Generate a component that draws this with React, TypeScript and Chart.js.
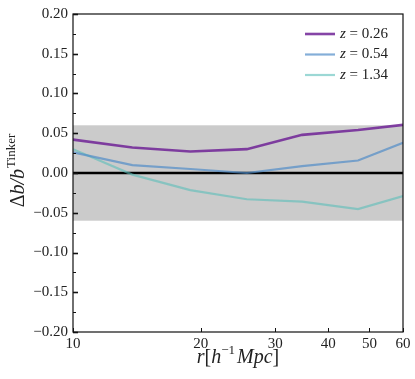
import React, { useEffect, useRef } from 'react';
import { Chart, registerables } from 'chart.js';

Chart.register(...registerables);

// ---- data ----
const radii = [10, 13.8, 18.9, 25.7, 34.7, 47, 60];
const biasZ026 = [0.042, 0.032, 0.027, 0.030, 0.048, 0.054, 0.0605];
const biasZ054 = [0.026, 0.010, 0.005, 0.000, 0.0087, 0.0157, 0.038];
const biasZ134 = [0.030, -0.002, -0.0215, -0.033, -0.036, -0.0455, -0.029];
const redshiftLabels = ['0.26', '0.54', '1.34'];
const xTickValues = [10, 20, 30, 40, 50, 60];
const yMajorTicks = [-0.2, -0.15, -0.1, -0.05, 0, 0.05, 0.1, 0.15, 0.2];
const yMinorTicks = [-0.175, -0.125, -0.075, -0.025, 0.025, 0.075, 0.125, 0.175];
const bandRange = [-0.06, 0.06];
const zeroLevel = 0;

const lineColors = ['rgba(112,35,150,0.85)', 'rgba(80,140,200,0.7)', 'rgba(90,190,185,0.6)'];
const lineWidths = [2.6, 2.2, 2.2];
const SERIF = "'Liberation Serif', 'Times New Roman', serif";

const decorPlugin = {
  id: 'decor',
  beforeDatasetsDraw(chart: any) {
    const { ctx, chartArea: a, scales } = chart;
    const y = scales.y;
    ctx.save();
    const yTop = y.getPixelForValue(bandRange[1]);
    const yBot = y.getPixelForValue(bandRange[0]);
    ctx.fillStyle = '#cbcbcb';
    ctx.fillRect(a.left, yTop, a.right - a.left, yBot - yTop);
    const y0 = y.getPixelForValue(zeroLevel);
    ctx.strokeStyle = '#000';
    ctx.lineWidth = 2.4;
    ctx.beginPath();
    ctx.moveTo(a.left, y0);
    ctx.lineTo(a.right, y0);
    ctx.stroke();
    ctx.restore();
  },
  afterDatasetsDraw(chart: any) {
    const { ctx, chartArea: a, scales } = chart;
    const x = scales.x;
    const y = scales.y;
    ctx.save();
    // frame
    ctx.strokeStyle = '#111';
    ctx.lineWidth = 1.2;
    ctx.strokeRect(a.left, a.top, a.right - a.left, a.bottom - a.top);
    // y ticks (inward)
    ctx.lineWidth = 1.6;
    yMajorTicks.forEach((v) => {
      const py = Math.round(y.getPixelForValue(v)) + 0.5;
      ctx.beginPath();
      ctx.moveTo(a.left, py);
      ctx.lineTo(a.left + 5, py);
      ctx.stroke();
    });
    ctx.lineWidth = 1;
    yMinorTicks.forEach((v) => {
      const py = Math.round(y.getPixelForValue(v)) + 0.5;
      ctx.beginPath();
      ctx.moveTo(a.left, py);
      ctx.lineTo(a.left + 3, py);
      ctx.stroke();
    });
    // x ticks (inward)
    ctx.lineWidth = 1;
    xTickValues.forEach((v) => {
      const px = Math.round(x.getPixelForValue(v)) + 0.5;
      ctx.beginPath();
      ctx.moveTo(px, a.bottom);
      ctx.lineTo(px, a.bottom - 4);
      ctx.stroke();
    });

    // legend
    const lx = a.right - 98;
    const ly = a.top + 20;
    chart.data.datasets.forEach((ds: any, i: number) => {
      const yy = ly + i * 20.5;
      ctx.strokeStyle = ds.borderColor;
      ctx.lineWidth = ds.borderWidth;
      ctx.beginPath();
      ctx.moveTo(lx, yy);
      ctx.lineTo(lx + 30, yy);
      ctx.stroke();
      ctx.fillStyle = '#222';
      ctx.textBaseline = 'middle';
      ctx.textAlign = 'left';
      ctx.font = `italic 15px ${SERIF}`;
      ctx.fillText('z', lx + 35, yy);
      const w = ctx.measureText('z').width;
      ctx.font = `15px ${SERIF}`;
      ctx.fillText(' = ' + redshiftLabels[i], lx + 35 + w, yy);
    });

    // x title
    ctx.fillStyle = '#222';
    ctx.textBaseline = 'alphabetic';
    ctx.textAlign = 'left';
    const xParts: [string, string, number][] = [
      ['r', `italic 20px ${SERIF}`, 0],
      ['[', `20px ${SERIF}`, 0],
      ['h', `italic 20px ${SERIF}`, 0],
      ['\u22121', `13px ${SERIF}`, -9],
      ['Mpc', `italic 20px ${SERIF}`, 0],
      [']', `20px ${SERIF}`, 0],
    ];
    let total = 0;
    xParts.forEach(([t, f]) => {
      ctx.font = f;
      total += ctx.measureText(t).width + (t === 'Mpc' ? 2 : 0);
    });
    let cx = (a.left + a.right) / 2 - total / 2;
    const baseY = 363;
    xParts.forEach(([t, f, dy]) => {
      ctx.font = f;
      if (t === 'Mpc') cx += 2;
      ctx.fillText(t, cx, baseY + dy);
      cx += ctx.measureText(t).width;
    });

    // y title (rotated)
    ctx.save();
    ctx.translate(24, 171);
    ctx.rotate(-Math.PI / 2);
    const yParts: [string, string, number][] = [
      ['\u0394', `20px ${SERIF}`, 0],
      ['b/b', `italic 20px ${SERIF}`, 0],
      ['Tinker', `13px ${SERIF}`, -9],
    ];
    let tw = 0;
    yParts.forEach(([t, f]) => {
      ctx.font = f;
      tw += ctx.measureText(t).width;
    });
    let tx = -tw / 2;
    yParts.forEach(([t, f, dy]) => {
      ctx.font = f;
      ctx.fillText(t, tx, dy);
      tx += ctx.measureText(t).width + (t === 'b/b' ? 1 : 0);
    });
    ctx.restore();

    ctx.restore();
  },
};

export default function App() {
  const canvasRef = useRef<HTMLCanvasElement | null>(null);

  useEffect(() => {
    document.body.style.margin = '0';
    const canvas = canvasRef.current;
    if (!canvas) return;
    const series = [biasZ026, biasZ054, biasZ134];
    const chart = new Chart(canvas, {
      type: 'line',
      data: {
        datasets: series.map((vals, i) => ({
          label: 'z = ' + redshiftLabels[i],
          data: radii.map((r, j) => ({ x: r, y: vals[j] })),
          borderColor: lineColors[i],
          borderWidth: lineWidths[i],
          pointRadius: 0,
          tension: 0,
          fill: false,
        })),
      },
      options: {
        animation: false,
        responsive: true,
        maintainAspectRatio: false,
        layout: { padding: { top: 10, right: 12, left: 0, bottom: 0 } },
        plugins: { legend: { display: false }, tooltip: { enabled: false } },
        scales: {
          x: {
            type: 'logarithmic',
            min: 10,
            max: 60,
            grid: { display: false, drawTicks: false, tickLength: 0 },
            border: { display: false },
            afterBuildTicks: (scale: any) => {
              scale.ticks = xTickValues.map((v) => ({ value: v }));
            },
            afterFit: (scale: any) => {
              scale.height = 47;
            },
            ticks: {
              autoSkip: false,
              maxRotation: 0,
              padding: 3,
              color: '#222',
              font: { family: SERIF, size: 15 },
              callback: (v: any) => String(v),
            },
          },
          y: {
            type: 'linear',
            min: -0.2,
            max: 0.2,
            grid: { display: false, drawTicks: false, tickLength: 0 },
            border: { display: false },
            afterBuildTicks: (scale: any) => {
              scale.ticks = yMajorTicks.map((v) => ({ value: v }));
            },
            afterFit: (scale: any) => {
              scale.width = 73;
            },
            ticks: {
              autoSkip: false,
              padding: 5,
              color: '#222',
              font: { family: SERIF, size: 15 },
              callback: (v: any) => {
                const n = Number(v);
                const s = Math.abs(n).toFixed(2);
                return n < -1e-9 ? '\u2212' + s : s;
              },
            },
          },
        },
      },
      plugins: [decorPlugin],
    });
    return () => chart.destroy();
  }, []);

  return (
    <div style={{ position: 'fixed', left: 0, top: 0, width: 415, height: 379 }}>
      <canvas ref={canvasRef} />
    </div>
  );
}
